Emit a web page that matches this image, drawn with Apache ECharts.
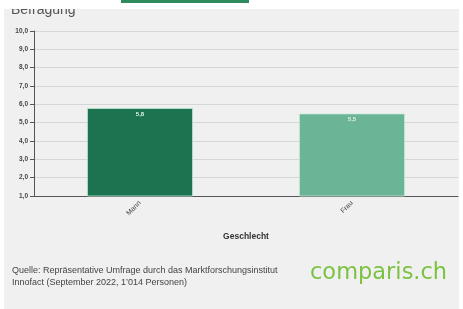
<!DOCTYPE html>
<html><head><meta charset="utf-8">
<script src="https://cdn.jsdelivr.net/npm/echarts@6/dist/echarts.min.js"></script>
<style>html,body{margin:0;padding:0;background:#fff}#c{width:463px;height:309px}</style>
</head><body><div id="c"></div>
<script>
const categories = ['Mann', 'Frau'];
const values = [5.8, 5.5];
const barColors = ['#1b7350', '#6bb596'];
const yMin = 1, yMax = 10, yStep = 1;
const title = 'Befragung';
const xName = 'Geschlecht';
const sourceLines = ['Quelle: Repräsentative Umfrage durch das Marktforschungsinstitut', 'Innofact (September 2022, 1’014 Personen)'];
const logo = 'comparis.ch';

const chart = echarts.init(document.getElementById('c'), null, {renderer: 'canvas'});
chart.setOption({
  backgroundColor: '#ffffff',
  animation: false,
  graphic: [
    {type: 'rect', shape: {x: 4, y: 0, width: 455, height: 309}, style: {fill: '#f0f0f0'}, z: -10},
    {type: 'text', left: 11, top: 3, style: {text: title, fill: '#555', font: '14px "Liberation Sans", Arial, sans-serif'}, z: 1},
    {type: 'rect', shape: {x: 0, y: 0, width: 463, height: 9}, style: {fill: '#ffffff'}, z: 5},
    {type: 'rect', shape: {x: 121, y: 0, width: 128, height: 3}, style: {fill: '#2e8b5e'}, z: 6},
    {type: 'text', left: 12, top: 265, style: {text: sourceLines.join('\n'), fill: '#444', font: '9px "Liberation Sans", Arial, sans-serif', lineHeight: 11.5}, z: 6},
    {type: 'text', left: 310, top: 262, style: {text: logo, fill: '#7cc242', font: '22.5px "DejaVu Sans", sans-serif'}, z: 6}
  ],
  grid: {left: 34, right: 5, top: 31, bottom: 113, containLabel: false},
  xAxis: {
    type: 'category', data: categories,
    name: xName, nameLocation: 'middle', nameGap: 36,
    nameTextStyle: {fontSize: 8.5, fontWeight: 'bold', color: '#333', fontFamily: 'Liberation Sans'},
    axisLine: {lineStyle: {color: '#555', width: 1}},
    axisTick: {alignWithLabel: true, length: 4, lineStyle: {color: '#555'}},
    axisLabel: {rotate: 45, fontSize: 7, color: '#444', margin: 6, fontFamily: 'Liberation Sans'}
  },
  yAxis: {
    type: 'value', min: yMin, max: yMax, interval: yStep,
    axisLine: {show: true, lineStyle: {color: '#555', width: 1}},
    axisTick: {show: true, length: 4, lineStyle: {color: '#555'}},
    axisLabel: {fontSize: 6.5, color: '#444', margin: 6, fontWeight: 'bold', fontFamily: 'Liberation Sans',
      formatter: v => v.toFixed(1).replace('.', ',')},
    splitLine: {lineStyle: {color: '#d6d6d6', width: 1}}
  },
  series: [{
    type: 'bar', barWidth: '50%',
    data: values.map((v, i) => ({value: v, itemStyle: {color: barColors[i], borderColor: '#c8ecd9', borderWidth: 0.8}})),
    label: {show: true, position: 'insideTop', distance: 3, fontSize: 6, fontWeight: 'bold', color: '#e0f5ea',
      formatter: p => p.value.toFixed(1).replace('.', ',')}
  }]
});
</script></body></html>
